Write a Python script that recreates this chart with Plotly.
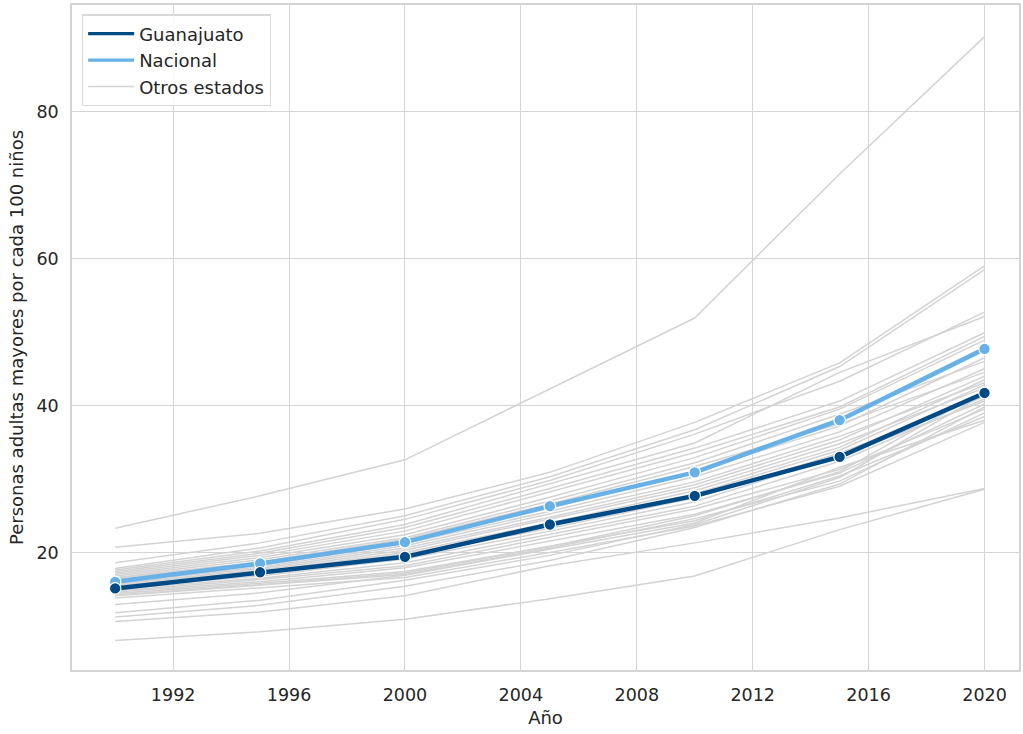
import plotly.graph_objects as go

# Census years
years = [1990, 1995, 2000, 2005, 2010, 2015, 2020]

# Aging index (adults 60+ per 100 children under 15)
guanajuato = [15.1, 17.3, 19.4, 23.8, 27.7, 33.0, 41.7]
nacional = [16.0, 18.5, 21.4, 26.3, 30.9, 38.0, 47.7]

# Remaining states
otros_estados = [
    [23.3, 27.7, 32.6, 42.3, 51.9, 71.5, 90.2],
    [20.7, 22.6, 25.9, 30.9, 37.7, 45.8, 59.0],
    [18.6, 21.3, 25.0, 30.3, 36.7, 45.3, 58.5],
    [17.8, 20.6, 24.5, 29.8, 36.1, 43.3, 52.7],
    [17.6, 20.2, 23.8, 29.3, 34.9, 44.5, 52.1],
    [17.4, 19.9, 23.4, 28.7, 34.2, 40.6, 49.9],
    [17.2, 19.6, 22.9, 28.2, 33.6, 39.8, 49.4],
    [17.0, 19.3, 22.4, 27.5, 32.9, 39.5, 48.9],
    [16.8, 19.0, 22.0, 27.0, 32.2, 38.8, 46.0],
    [16.6, 18.7, 21.8, 26.6, 31.7, 37.5, 44.5],
    [16.5, 18.5, 21.6, 26.0, 31.0, 37.2, 46.5],
    [16.3, 18.2, 21.2, 25.6, 30.3, 36.4, 45.0],
    [16.1, 18.0, 20.9, 25.2, 29.6, 35.8, 43.1],
    [16.0, 17.8, 20.6, 24.8, 29.2, 35.3, 44.0],
    [15.8, 17.6, 20.3, 24.5, 28.8, 34.8, 42.4],
    [15.7, 17.4, 20.0, 24.0, 28.4, 34.3, 43.5],
    [15.5, 17.2, 19.8, 23.6, 28.0, 33.9, 42.8],
    [15.4, 17.0, 19.5, 23.3, 27.4, 33.5, 41.2],
    [15.2, 16.8, 19.1, 22.9, 26.9, 33.1, 40.6],
    [15.0, 16.5, 18.6, 22.4, 26.3, 32.4, 40.9],
    [14.8, 16.3, 18.2, 22.0, 25.9, 31.3, 39.5],
    [14.6, 16.0, 17.9, 21.5, 25.2, 30.8, 40.2],
    [14.4, 15.8, 17.4, 20.9, 24.3, 30.4, 38.5],
    [14.2, 15.6, 17.2, 20.8, 25.0, 31.0, 42.0],
    [14.1, 15.5, 17.0, 20.6, 24.6, 29.7, 39.0],
    [13.8, 15.2, 16.6, 20.0, 23.6, 29.0, 37.7],
    [12.9, 14.5, 16.9, 20.4, 24.0, 31.6, 38.0],
    [11.8, 13.5, 16.2, 19.6, 23.8, 30.2, 41.5],
    [11.2, 12.8, 15.4, 18.9, 23.4, 29.3, 39.8],
    [10.6, 11.9, 14.1, 18.2, 21.3, 24.7, 28.7],
    [8.0, 9.2, 10.9, 13.7, 16.8, 23.1, 28.6],
]

x_ticks = [1992, 1996, 2000, 2004, 2008, 2012, 2016, 2020]
y_ticks = [20, 40, 60, 80]

FONT = "DejaVu Sans"
TEXT = "#262626"
GRID = "#d4d4d4"
GRAY = "#d3d3d3"
DARK_BLUE = "#004a86"
LIGHT_BLUE = "#67b1e6"

fig = go.Figure()

# Gray background lines, one per state
for serie in otros_estados:
    fig.add_trace(go.Scatter(
        x=years, y=serie, mode="lines",
        line=dict(color=GRAY, width=1.5),
        showlegend=False, hoverinfo="skip",
    ))

fig.add_trace(go.Scatter(
    x=years, y=nacional, mode="lines+markers", name="Nacional",
    line=dict(color=LIGHT_BLUE, width=4.5),
    marker=dict(size=11.5, color=LIGHT_BLUE, line=dict(color="white", width=1.2)),
    showlegend=False,
))

fig.add_trace(go.Scatter(
    x=years, y=guanajuato, mode="lines+markers", name="Guanajuato",
    line=dict(color=DARK_BLUE, width=4.5),
    marker=dict(size=11.5, color=DARK_BLUE, line=dict(color="white", width=1.2)),
    showlegend=False,
))

# Legend entries drawn as plain line handles
legend_items = [
    ("Guanajuato", DARK_BLUE, 3.2),
    ("Nacional", LIGHT_BLUE, 3.2),
    ("Otros estados", GRAY, 1.6),
]
for rank, (name, color, width) in enumerate(legend_items, start=1):
    fig.add_trace(go.Scatter(
        x=[None], y=[None], mode="lines", name=name,
        line=dict(color=color, width=width),
        legendgroup=name, legendrank=rank, showlegend=True,
    ))

axis_common = dict(
    showgrid=True, gridcolor=GRID, gridwidth=1.3,
    showline=True, linecolor=GRID, linewidth=1.6, mirror=True,
    zeroline=False, ticks="",
    tickfont=dict(family=FONT, size=17.5, color=TEXT),
    title_font=dict(family=FONT, size=18, color=TEXT),
)

fig.update_xaxes(
    range=[1988.51, 2021.19], tickvals=x_ticks,
    title_text="Año", title_standoff=8, ticklabelstandoff=8,
    **axis_common,
)
fig.update_yaxes(
    range=[4.0, 94.5], tickvals=y_ticks,
    title_text="Personas adultas mayores por cada 100 niños",
    title_standoff=8, ticklabelstandoff=8,
    **axis_common,
)

fig.update_layout(
    width=1023, height=734,
    margin=dict(l=72, r=2, t=5, b=64),
    plot_bgcolor="white", paper_bgcolor="white",
    font=dict(family=FONT, color=TEXT),
    showlegend=True,
    legend=dict(
        x=0.0105, y=0.986, xanchor="left", yanchor="top",
        bgcolor="rgba(255,255,255,0.85)",
        bordercolor="#d9d9d9", borderwidth=1.2,
        font=dict(family=FONT, size=18, color=TEXT),
        tracegroupgap=0, itemwidth=46,
    ),
)

fig.write_html("out.html")
